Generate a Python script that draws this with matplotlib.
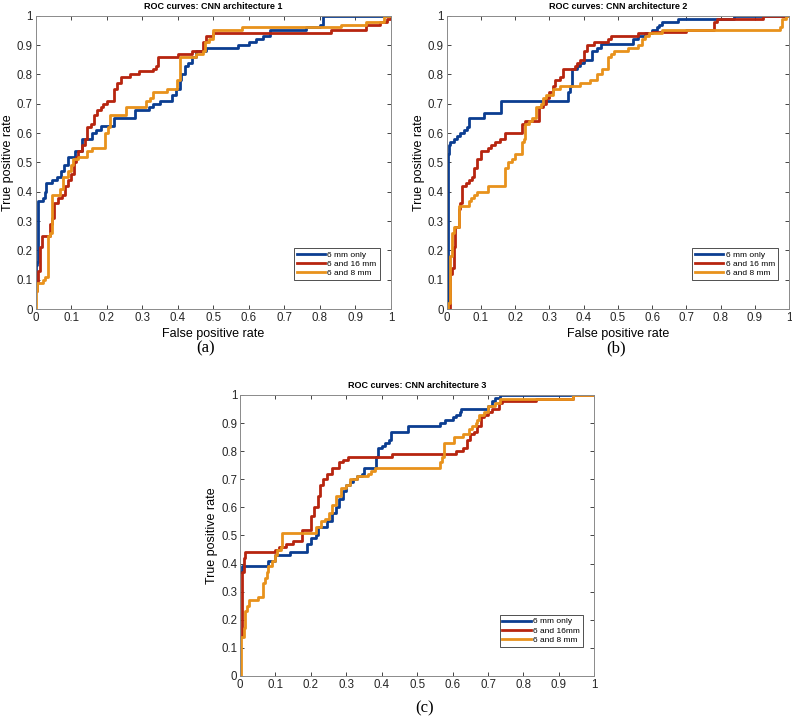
import numpy as np
import matplotlib
matplotlib.use('Agg')
import matplotlib.pyplot as plt

plt.rcParams['font.family'] = ['Liberation Sans', 'DejaVu Sans']

# ── ROC 데이터 (fpr, tpr) : 각 계단의 꼭짓점 ──
legend_labels_ab = ['6 mm only', '6 and 16 mm', '6 and 8 mm']
legend_labels_c = ['6 mm only', '6 and 16mm', '6 and 8 mm']
titles = ['ROC curves: CNN architecture 1', 'ROC curves: CNN architecture 2',
          'ROC curves: CNN architecture 3']
panel_tags = ['(a)', '(b)', '(c)']

a_6mm = [(0, 0.07), (0, 0.15), (0.005, 0.16), (0.008, 0.37), (0.02, 0.38), (0.025, 0.40),
         (0.03, 0.43), (0.045, 0.44), (0.06, 0.45), (0.07, 0.47), (0.08, 0.49), (0.09, 0.52),
         (0.11, 0.54), (0.13, 0.58), (0.16, 0.60), (0.17, 0.61), (0.185, 0.625), (0.22, 0.65),
         (0.28, 0.68), (0.32, 0.69), (0.33, 0.70), (0.35, 0.71), (0.385, 0.73), (0.395, 0.75),
         (0.405, 0.78), (0.41, 0.80), (0.42, 0.83), (0.43, 0.84), (0.44, 0.86), (0.45, 0.88),
         (0.48, 0.89), (0.57, 0.90), (0.60, 0.91), (0.62, 0.92), (0.64, 0.93), (0.66, 0.95),
         (0.76, 0.96), (0.80, 0.97), (0.81, 1.0), (1.0, 1.0)]
a_6and16 = [(0, 0.06), (0.005, 0.09), (0.008, 0.13), (0.012, 0.21), (0.018, 0.25), (0.04, 0.29),
            (0.045, 0.31), (0.052, 0.36), (0.062, 0.38), (0.075, 0.39), (0.082, 0.42), (0.09, 0.44),
            (0.1, 0.46), (0.108, 0.50), (0.113, 0.52), (0.12, 0.54), (0.13, 0.56), (0.138, 0.58),
            (0.145, 0.62), (0.155, 0.63), (0.163, 0.66), (0.172, 0.68), (0.183, 0.69), (0.19, 0.70),
            (0.2, 0.71), (0.22, 0.75), (0.23, 0.77), (0.24, 0.79), (0.265, 0.80), (0.29, 0.81),
            (0.33, 0.82), (0.34, 0.83), (0.345, 0.86), (0.4, 0.87), (0.44, 0.88), (0.472, 0.91),
            (0.48, 0.93), (0.5, 0.94), (0.83, 0.95), (0.93, 0.97), (0.97, 0.98), (0.99, 0.99),
            (1.0, 1.0)]
a_6and8 = [(0, 0.0), (0.001, 0.06), (0.005, 0.09), (0.02, 0.10), (0.025, 0.11), (0.035, 0.25),
           (0.04, 0.26), (0.045, 0.39), (0.068, 0.41), (0.078, 0.45), (0.09, 0.47), (0.1, 0.49),
           (0.105, 0.51), (0.12, 0.52), (0.145, 0.54), (0.16, 0.55), (0.195, 0.60), (0.205, 0.62),
           (0.21, 0.66), (0.255, 0.69), (0.31, 0.71), (0.322, 0.72), (0.33, 0.74), (0.37, 0.75),
           (0.398, 0.78), (0.405, 0.86), (0.45, 0.87), (0.47, 0.88), (0.478, 0.91), (0.488, 0.92),
           (0.5, 0.95), (0.58, 0.96), (0.86, 0.97), (0.93, 0.98), (0.98, 1.0), (1.0, 1.0)]

b_6mm = [(0, 0.02), (0.003, 0.53), (0.006, 0.56), (0.01, 0.57), (0.02, 0.58), (0.03, 0.59),
         (0.04, 0.60), (0.05, 0.61), (0.06, 0.62), (0.065, 0.65), (0.11, 0.67), (0.16, 0.71),
         (0.355, 0.74), (0.36, 0.76), (0.365, 0.82), (0.38, 0.83), (0.39, 0.84), (0.4, 0.85),
         (0.425, 0.88), (0.44, 0.89), (0.45, 0.905), (0.545, 0.92), (0.56, 0.93), (0.58, 0.94),
         (0.6, 0.95), (0.615, 0.96), (0.62, 0.97), (0.63, 0.98), (0.675, 0.99), (0.84, 1.0),
         (1.0, 1.0)]
b_6and16 = [(0.005, 0.0), (0.01, 0.12), (0.015, 0.14), (0.022, 0.21), (0.025, 0.28), (0.035, 0.34),
            (0.04, 0.36), (0.045, 0.42), (0.055, 0.43), (0.065, 0.44), (0.075, 0.45), (0.08, 0.48),
            (0.09, 0.51), (0.1, 0.54), (0.12, 0.55), (0.13, 0.56), (0.14, 0.57), (0.155, 0.58),
            (0.17, 0.60), (0.22, 0.63), (0.23, 0.64), (0.27, 0.69), (0.28, 0.70), (0.29, 0.72),
            (0.3, 0.74), (0.31, 0.76), (0.315, 0.78), (0.33, 0.79), (0.34, 0.82), (0.375, 0.83),
            (0.38, 0.84), (0.39, 0.85), (0.4, 0.88), (0.41, 0.90), (0.43, 0.91), (0.47, 0.92),
            (0.48, 0.93), (0.56, 0.94), (0.6, 0.945), (0.7, 0.95), (0.78, 0.98), (0.79, 0.99),
            (0.925, 1.0), (1.0, 1.0)]
b_6and8 = [(0, 0.0), (0.005, 0.02), (0.01, 0.18), (0.015, 0.26), (0.02, 0.28), (0.035, 0.35),
           (0.065, 0.37), (0.07, 0.38), (0.08, 0.39), (0.09, 0.40), (0.12, 0.42), (0.17, 0.48),
           (0.18, 0.50), (0.19, 0.51), (0.2, 0.53), (0.22, 0.57), (0.225, 0.58), (0.23, 0.63),
           (0.24, 0.64), (0.25, 0.65), (0.26, 0.69), (0.275, 0.70), (0.28, 0.72), (0.29, 0.73),
           (0.31, 0.75), (0.33, 0.76), (0.39, 0.77), (0.42, 0.78), (0.44, 0.80), (0.455, 0.82),
           (0.47, 0.86), (0.48, 0.87), (0.49, 0.88), (0.53, 0.89), (0.56, 0.90), (0.57, 0.92),
           (0.58, 0.93), (0.59, 0.94), (0.63, 0.95), (0.975, 0.96), (0.98, 0.99), (0.99, 1.0),
           (1.0, 1.0)]

c_6mm = [(0, 0.37), (0.005, 0.39), (0.08, 0.41), (0.1, 0.43), (0.14, 0.44), (0.19, 0.47),
         (0.2, 0.49), (0.215, 0.50), (0.22, 0.53), (0.245, 0.55), (0.26, 0.58), (0.27, 0.60),
         (0.28, 0.63), (0.29, 0.66), (0.3, 0.68), (0.31, 0.69), (0.32, 0.70), (0.33, 0.71),
         (0.345, 0.72), (0.35, 0.74), (0.385, 0.78), (0.39, 0.81), (0.4, 0.82), (0.41, 0.83),
         (0.42, 0.84), (0.425, 0.87), (0.475, 0.89), (0.565, 0.90), (0.58, 0.91), (0.6, 0.92),
         (0.61, 0.93), (0.62, 0.94), (0.625, 0.95), (0.7, 0.96), (0.71, 0.98), (0.72, 0.99),
         (0.735, 1.0), (0.93, 1.0)]
c_6and16 = [(0, 0.14), (0.005, 0.37), (0.01, 0.42), (0.015, 0.44), (0.1, 0.45), (0.11, 0.46),
            (0.13, 0.47), (0.15, 0.48), (0.175, 0.52), (0.2, 0.57), (0.21, 0.60), (0.22, 0.64),
            (0.225, 0.68), (0.235, 0.70), (0.245, 0.72), (0.26, 0.74), (0.28, 0.76), (0.29, 0.77),
            (0.305, 0.78), (0.43, 0.79), (0.61, 0.80), (0.63, 0.81), (0.64, 0.84), (0.65, 0.86),
            (0.66, 0.87), (0.67, 0.89), (0.68, 0.92), (0.69, 0.93), (0.70, 0.94), (0.71, 0.95),
            (0.73, 0.97), (0.74, 0.98), (0.835, 0.985), (0.94, 1.0), (1.0, 1.0)]
c_6and8 = [(0, 0.0), (0.003, 0.14), (0.01, 0.17), (0.015, 0.23), (0.02, 0.25), (0.025, 0.27),
           (0.05, 0.28), (0.065, 0.33), (0.07, 0.35), (0.075, 0.37), (0.08, 0.39), (0.09, 0.41),
           (0.1, 0.43), (0.105, 0.45), (0.115, 0.46), (0.12, 0.51), (0.215, 0.53), (0.23, 0.55),
           (0.24, 0.56), (0.25, 0.58), (0.26, 0.61), (0.27, 0.64), (0.285, 0.67), (0.3, 0.68),
           (0.31, 0.70), (0.33, 0.71), (0.36, 0.72), (0.37, 0.73), (0.38, 0.74), (0.565, 0.76),
           (0.57, 0.78), (0.575, 0.83), (0.605, 0.85), (0.63, 0.86), (0.645, 0.88), (0.655, 0.89),
           (0.665, 0.90), (0.67, 0.91), (0.675, 0.93), (0.69, 0.94), (0.7, 0.96), (0.72, 0.97),
           (0.735, 0.985), (0.94, 1.0), (1.0, 1.0)]

colors = ['#0B3D91', '#B7250F', '#E8921C']

panels = [
    ([a_6mm, a_6and16, a_6and8], legend_labels_ab, [0.045, 0.5696, 0.4486, 0.4085], True, 0.085),
    ([b_6mm, b_6and16, b_6and8], legend_labels_ab, [0.564, 0.5696, 0.4322, 0.4085], True, 0.085),
    ([c_6mm, c_6and16, c_6and8], legend_labels_c, [0.303, 0.0585, 0.4474, 0.3914], False, 0.09),
]
tag_pos = [(0.259, 0.515), (0.778, 0.515), (0.536, 0.014)]

fig = plt.figure(figsize=(7.92, 7.18), dpi=100)

for i, (curves, labels, rect, show_xlabel, leg_y) in enumerate(panels):
    ax = fig.add_axes(rect)
    for pts, lab, col in zip(curves, labels, colors):
        x, y = zip(*pts)
        ax.plot(x, y, drawstyle='steps-post', color=col, linewidth=2.0, label=lab)
    ax.set_xlim(0, 1)
    ax.set_ylim(0, 1)
    ticks = np.round(np.arange(0, 1.01, 0.1), 1)
    ax.set_xticks(ticks)
    ax.set_yticks(ticks)
    ax.set_xticklabels([f'{t:g}' for t in ticks])
    ax.set_yticklabels([f'{t:g}' for t in ticks])
    ax.tick_params(direction='in', top=True, right=True, length=3, width=0.6,
                   labelsize=8.3, pad=2, colors='#262626')
    for s in ax.spines.values():
        s.set_color('#8a8a8a')
        s.set_linewidth(0.7)
    ax.set_title(titles[i], fontsize=6.5, fontweight='bold', pad=5)
    ax.set_ylabel('True positive rate', fontsize=9, labelpad=2)
    if show_xlabel:
        ax.set_xlabel('False positive rate', fontsize=9, labelpad=3)
    leg = ax.legend(loc='lower right', bbox_to_anchor=(0.98, leg_y), fontsize=6,
                    handlelength=3.4, handletextpad=0.3, borderpad=0.35,
                    labelspacing=0.15, fancybox=False, framealpha=1)
    leg.get_frame().set_edgecolor('#333333')
    leg.get_frame().set_linewidth(0.6)
    fig.text(tag_pos[i][0], tag_pos[i][1], panel_tags[i], ha='center', va='center',
             fontsize=12, family=['Liberation Serif', 'DejaVu Serif'])

plt.savefig('out.png', dpi=100)
